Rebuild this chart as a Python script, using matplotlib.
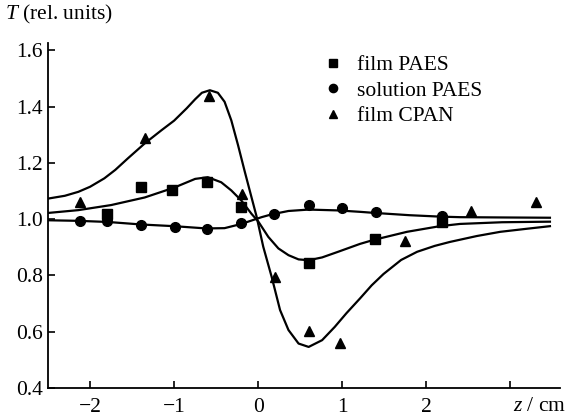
import matplotlib
matplotlib.use("Agg")
import matplotlib.pyplot as plt
import matplotlib.transforms as mtransforms

plt.rcParams['font.family'] = 'Liberation Serif'
plt.rcParams['mathtext.fontset'] = 'custom'
plt.rcParams['mathtext.rm'] = 'Liberation Serif'
plt.rcParams['mathtext.it'] = 'Liberation Serif:italic'

# measured points
z_film_paes = [-1.80, -1.39, -1.02, -0.61, -0.20, 0.60, 1.39, 2.19]
t_film_paes = [1.018, 1.113, 1.105, 1.132, 1.044, 0.843, 0.928, 0.990]

z_sol_paes = [-2.12, -1.80, -1.40, -0.99, -0.61, -0.20, 0.19, 0.60, 1.00, 1.40, 2.19]
t_sol_paes = [0.994, 0.994, 0.979, 0.973, 0.964, 0.987, 1.017, 1.050, 1.038, 1.026, 1.011]

z_film_cpan = [-2.12, -1.35, -0.58, -0.19, 0.20, 0.60, 0.97, 1.75, 2.53, 3.31]
t_film_cpan = [1.061, 1.289, 1.437, 1.089, 0.793, 0.603, 0.560, 0.923, 1.030, 1.061]

# fitted curves
zc_film_paes = [-2.5, -2.14, -1.75, -1.35, -1.0, -0.75, -0.6, -0.44, -0.32, -0.2, -0.08,
                0.0, 0.12, 0.24, 0.36, 0.48, 0.6, 0.76, 0.95, 1.21, 1.37, 1.77, 2.16,
                2.4, 2.9, 3.47]
tc_film_paes = [1.022, 1.032, 1.050, 1.077, 1.112, 1.143, 1.149, 1.131, 1.102, 1.066, 1.019,
                0.992, 0.937, 0.896, 0.872, 0.857, 0.854, 0.864, 0.884, 0.912, 0.926, 0.955,
                0.975, 0.983, 0.989, 0.991]

zc_sol_paes = [-2.5, -2.14, -1.79, -1.39, -1.0, -0.62, -0.4, -0.2, -0.08, 0.04, 0.16,
               0.36, 0.6, 0.95, 1.21, 1.39, 1.8, 2.16, 2.4, 2.9, 3.47]
tc_sol_paes = [0.996, 0.994, 0.990, 0.981, 0.975, 0.967, 0.968, 0.983, 0.995, 1.007, 1.017,
               1.029, 1.034, 1.031, 1.026, 1.022, 1.014, 1.009, 1.007, 1.006, 1.005]

zc_film_cpan = [-2.5, -2.3, -2.14, -2.0, -1.83, -1.7, -1.55, -1.35, -1.15, -1.0, -0.85,
                -0.75, -0.67, -0.575, -0.48, -0.4, -0.32, -0.24, -0.16, -0.08, -0.02,
                0.06, 0.16, 0.26, 0.36, 0.48, 0.6, 0.76, 0.91, 1.05, 1.21, 1.35, 1.49,
                1.7, 1.89, 2.1, 2.28, 2.6, 2.88, 3.2, 3.47]
tc_film_cpan = [1.073, 1.083, 1.097, 1.115, 1.145, 1.175, 1.216, 1.269, 1.316, 1.350, 1.394,
                1.426, 1.449, 1.458, 1.449, 1.417, 1.351, 1.263, 1.169, 1.078, 1.010,
                0.902, 0.795, 0.677, 0.606, 0.558, 0.546, 0.570, 0.617, 0.666, 0.718, 0.765,
                0.805, 0.855, 0.884, 0.905, 0.919, 0.940, 0.955, 0.966, 0.975]

fig = plt.figure(figsize=(5.67, 4.17), dpi=100)
ax = fig.add_axes([0.0847, 0.0695, 0.903, 0.8275])

for zc, tc in [(zc_film_paes, tc_film_paes), (zc_sol_paes, tc_sol_paes),
               (zc_film_cpan, tc_film_cpan)]:
    ax.plot(zc, tc, color='black', lw=1.6, solid_joinstyle='round')

ax.plot(z_film_paes, t_film_paes, 's', color='black', ms=6.5, label='film PAES')
ax.plot(z_sol_paes, t_sol_paes, 'o', color='black', ms=7, label='solution PAES')
ax.plot(z_film_cpan, t_film_cpan, '^', color='black', ms=6.5, label='film CPAN')

ax.set_xlim(-2.5, 3.59)
ax.set_ylim(0.4, 1.626)
ax.set_xticks([-2, -1, 0, 1, 2, 3])
ax.set_xticklabels(['\u22122', '\u22121', '0', '1', '2', ''])
ax.set_yticks([0.4, 0.6, 0.8, 1.0, 1.2, 1.4, 1.6])
ax.set_yticklabels(['0.4', '0.6', '0.8', '1.0', '1.2', '1.4', '1.6'])
ax.tick_params(direction='in', length=5, width=1.2, labelsize=15.5)
ax.tick_params(axis='x', pad=7)
ax.tick_params(axis='y', pad=3.5)

for s in ['top', 'right']:
    ax.spines[s].set_visible(False)
for s in ['left', 'bottom']:
    ax.spines[s].set_linewidth(1.3)

trans = mtransforms.blended_transform_factory(ax.transData, ax.transAxes)
ax.text(3.03, -0.055, r'$z$ / cm', transform=trans, ha='left', va='center', fontsize=15.5)
fig.text(0.008, 0.966, r'$T$ (rel. units)', ha='left', va='center', fontsize=15.5)

ax.legend(loc='upper left', bbox_to_anchor=(0.498, 1.02), frameon=False, fontsize=15.5,
          handlelength=1.0, handletextpad=0.6, labelspacing=0.25, markerscale=0.85)

fig.savefig('out.png', dpi=100)
